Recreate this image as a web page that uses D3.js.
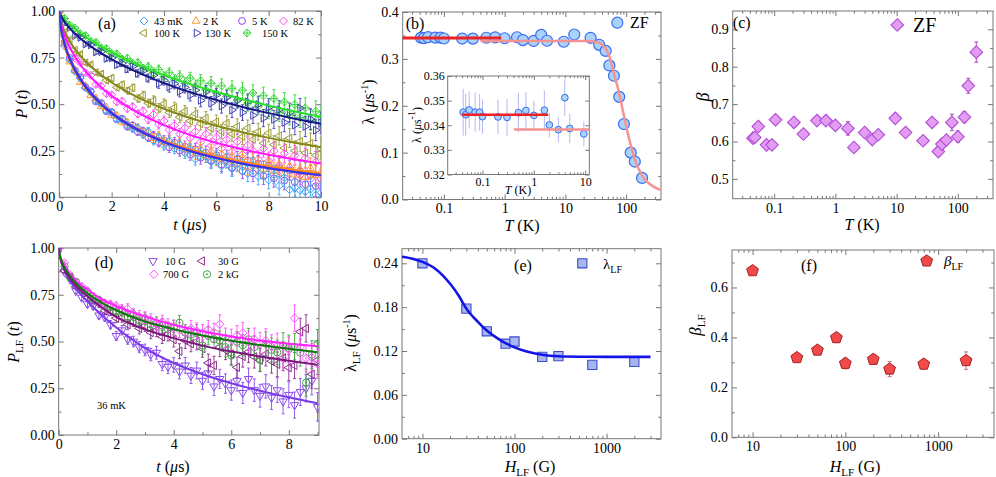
<!DOCTYPE html>
<html>
<head>
<meta charset="utf-8">
<script src="https://cdnjs.cloudflare.com/ajax/libs/d3/7.8.5/d3.min.js"></script>
<style>
body { margin: 0; background: #fff; }
text { font-family: "Liberation Serif", "Times New Roman", serif; }
</style>
</head>
<body>
<script>
const FONT = '"Liberation Serif", "Times New Roman", serif';

// ---- (a) ZF asymmetry vs time ----
const tA = [0, 0.2, 0.4, 0.6, 0.8, 1.0, 1.2, 1.4, 1.6, 1.8, 2.0, 2.2, 2.4, 2.6, 2.8, 3.0, 3.2, 3.4, 3.6, 3.8,
  4.0, 4.2, 4.4, 4.6, 4.8, 5.0, 5.2, 5.4, 5.6, 5.8, 6.0, 6.2, 6.4, 6.6, 6.8, 7.0, 7.2, 7.4, 7.6, 7.8,
  8.0, 8.2, 8.4, 8.6, 8.8, 9.0, 9.2, 9.4, 9.6, 9.8, 10.0];
const p43mK = [1.000, 0.812, 0.738, 0.676, 0.640, 0.588, 0.566, 0.520, 0.503, 0.466, 0.455, 0.421, 0.418, 0.388, 0.369, 0.372, 0.338, 0.352, 0.305, 0.318,
  0.279, 0.302, 0.262, 0.281, 0.238, 0.256, 0.205, 0.236, 0.221, 0.190, 0.214, 0.168, 0.197, 0.152, 0.183, 0.164, 0.128, 0.171, 0.112, 0.146,
  0.093, 0.121, 0.062, 0.105, 0.041, 0.052, 0.038, 0.030, 0.044, 0.012, 0.025];
const p2K = [1.000, 0.826, 0.728, 0.683, 0.618, 0.596, 0.547, 0.531, 0.488, 0.482, 0.442, 0.438, 0.405, 0.402, 0.372, 0.373, 0.344, 0.349, 0.318, 0.330,
  0.296, 0.305, 0.274, 0.290, 0.258, 0.268, 0.235, 0.262, 0.222, 0.248, 0.208, 0.232, 0.196, 0.221, 0.178, 0.214, 0.162, 0.198, 0.170, 0.152,
  0.186, 0.140, 0.176, 0.128, 0.166, 0.121, 0.150, 0.108, 0.156, 0.118, 0.135];
const p5K = [1.000, 0.830, 0.748, 0.681, 0.646, 0.592, 0.570, 0.514, 0.506, 0.462, 0.458, 0.418, 0.422, 0.380, 0.385, 0.352, 0.355, 0.322, 0.330, 0.296,
  0.305, 0.268, 0.292, 0.250, 0.272, 0.230, 0.258, 0.212, 0.240, 0.198, 0.226, 0.176, 0.215, 0.160, 0.205, 0.142, 0.196, 0.128, 0.180, 0.115,
  0.170, 0.102, 0.158, 0.090, 0.145, 0.082, 0.138, 0.070, 0.120, 0.060, 0.100];
const p82K = [1.000, 0.862, 0.812, 0.748, 0.722, 0.668, 0.655, 0.605, 0.598, 0.556, 0.551, 0.512, 0.515, 0.476, 0.486, 0.448, 0.462, 0.418, 0.445, 0.392,
  0.410, 0.362, 0.386, 0.340, 0.372, 0.318, 0.352, 0.296, 0.340, 0.278, 0.322, 0.262, 0.310, 0.245, 0.298, 0.230, 0.280, 0.250, 0.205, 0.262,
  0.195, 0.248, 0.175, 0.236, 0.160, 0.225, 0.120, 0.210, 0.098, 0.190, 0.060];
const p100K = [1.000, 0.885, 0.845, 0.790, 0.768, 0.722, 0.712, 0.670, 0.662, 0.628, 0.640, 0.590, 0.605, 0.572, 0.588, 0.530, 0.548, 0.505, 0.520, 0.478,
  0.502, 0.455, 0.482, 0.430, 0.462, 0.410, 0.448, 0.395, 0.425, 0.370, 0.405, 0.352, 0.398, 0.340, 0.380, 0.325, 0.372, 0.310, 0.352, 0.290,
  0.345, 0.282, 0.330, 0.265, 0.318, 0.250, 0.300, 0.238, 0.290, 0.225, 0.260];
const p130K = [1.000, 0.935, 0.912, 0.868, 0.858, 0.822, 0.818, 0.780, 0.782, 0.745, 0.748, 0.712, 0.720, 0.688, 0.702, 0.665, 0.678, 0.640, 0.655, 0.610,
  0.628, 0.592, 0.610, 0.568, 0.590, 0.548, 0.575, 0.520, 0.565, 0.505, 0.548, 0.490, 0.535, 0.468, 0.520, 0.455, 0.512, 0.440, 0.498, 0.425,
  0.482, 0.418, 0.470, 0.402, 0.455, 0.388, 0.478, 0.380, 0.420, 0.360, 0.400];
const p150K = [1.000, 0.960, 0.925, 0.908, 0.878, 0.868, 0.838, 0.832, 0.802, 0.798, 0.772, 0.770, 0.742, 0.745, 0.718, 0.722, 0.692, 0.700, 0.670, 0.685,
  0.648, 0.668, 0.630, 0.650, 0.612, 0.640, 0.598, 0.625, 0.578, 0.612, 0.560, 0.598, 0.542, 0.585, 0.522, 0.575, 0.505, 0.560, 0.488, 0.545,
  0.470, 0.530, 0.455, 0.512, 0.440, 0.498, 0.428, 0.480, 0.415, 0.462, 0.430];
const errA = [0.004, 0.006, 0.007, 0.008, 0.009, 0.010, 0.011, 0.012, 0.013, 0.014, 0.015, 0.016, 0.017, 0.018, 0.019, 0.020, 0.021, 0.022, 0.024, 0.025,
  0.026, 0.027, 0.028, 0.029, 0.030, 0.031, 0.032, 0.034, 0.035, 0.036, 0.037, 0.038, 0.039, 0.040, 0.041, 0.042, 0.043, 0.044, 0.045, 0.046,
  0.047, 0.048, 0.049, 0.050, 0.051, 0.052, 0.053, 0.054, 0.055, 0.056, 0.057];
const tFitA = [0, 0.05, 0.1, 0.2, 0.3, 0.5, 0.75, 1, 1.5, 2, 2.5, 3, 4, 5, 6, 7, 8, 9, 10];
const fit43mK = [1, 0.9194, 0.8796, 0.8223, 0.7782, 0.7101, 0.6451, 0.5930, 0.5122, 0.4505, 0.4010, 0.3602, 0.2961, 0.2479, 0.2104, 0.1805, 0.1560, 0.1359, 0.1190];
const fit2K = [1, 0.9116, 0.8704, 0.8121, 0.7683, 0.7010, 0.6375, 0.5871, 0.5092, 0.4500, 0.4027, 0.3636, 0.3022, 0.2558, 0.2195, 0.1903, 0.1663, 0.1464, 0.1296];
const fit5K = [1, 0.9227, 0.8838, 0.8274, 0.7839, 0.7161, 0.6512, 0.5990, 0.5177, 0.4554, 0.4054, 0.3640, 0.2991, 0.2502, 0.2121, 0.1816, 0.1568, 0.1364, 0.1193];
const fit82K = [1, 0.9442, 0.9145, 0.8699, 0.8348, 0.7784, 0.7228, 0.6768, 0.6029, 0.5443, 0.4958, 0.4545, 0.3875, 0.3350, 0.2926, 0.2576, 0.2283, 0.2033, 0.1819];
const fit100K = [1, 0.9521, 0.9273, 0.8904, 0.8614, 0.8148, 0.7684, 0.7300, 0.6672, 0.6164, 0.5737, 0.5368, 0.4754, 0.4258, 0.3844, 0.3493, 0.3190, 0.2925, 0.2692];
const fit130K = [1, 0.9775, 0.9637, 0.9417, 0.9233, 0.8922, 0.8594, 0.8308, 0.7818, 0.7400, 0.7033, 0.6704, 0.6132, 0.5646, 0.5222, 0.4850, 0.4518, 0.4219, 0.3950];
const fit150K = [1, 0.9843, 0.9738, 0.9564, 0.9414, 0.9152, 0.8868, 0.8616, 0.8171, 0.7783, 0.7436, 0.7120, 0.6561, 0.6076, 0.5648, 0.5266, 0.4922, 0.4610, 0.4326];

// ---- (b) ZF lambda vs T ----
const tempB = [0.042, 0.047, 0.055, 0.072, 0.088, 0.1, 0.2, 0.3, 0.5, 0.7, 1.0, 1.6, 2.0, 3.0, 4.0, 5.0, 9.4, 14, 26, 36,
  46, 53, 63, 77, 92, 119, 139, 183];
const lamB = [0.3453, 0.3443, 0.3462, 0.3453, 0.3453, 0.3435, 0.3434, 0.3432, 0.3451, 0.3460, 0.3440, 0.3461, 0.3401, 0.3382, 0.3512, 0.3387, 0.3365, 0.352, 0.345, 0.330,
  0.317, 0.286, 0.264, 0.219, 0.161, 0.100, 0.081, 0.046];
const errB = [0.0095, 0.0085, 0.0075, 0.008, 0.0075, 0.007, 0.007, 0.0075, 0.008, 0.0075, 0.006, 0.008, 0.005, 0.005, 0.0075, 0.006, 0.005, 0.006, 0.005, 0.005,
  0.005, 0.005, 0.004, 0.004, 0.004, 0.004, 0.003, 0.003];
const redMainT = [0.021, 0.88], redMainL = [0.3443, 0.3443];
const pinkT = [0.4, 20, 30, 40, 46, 52, 58, 65, 75, 85, 95, 110, 125, 140, 160, 185, 220, 270, 330, 370];
const pinkL = [0.338, 0.338, 0.337, 0.331, 0.322, 0.308, 0.288, 0.262, 0.232, 0.200, 0.170, 0.134, 0.106, 0.084, 0.066, 0.050, 0.038, 0.029, 0.023, 0.021];
const redInT = [0.04, 1.9], redInL = [0.3443, 0.3443];
const pinkInT = [0.41, 12], pinkInL = [0.3383, 0.3383];

// ---- (c) ZF beta vs T ----
const tempC = [0.045, 0.048, 0.055, 0.075, 0.092, 0.105, 0.21, 0.3, 0.5, 0.7, 1.0, 1.6, 2.0, 3.0, 4.0, 5.0, 9.5, 14, 27, 38,
  48, 55, 65, 80, 100, 128, 148, 200];
const betaC = [0.609, 0.611, 0.640, 0.591, 0.591, 0.658, 0.651, 0.620, 0.656, 0.656, 0.643, 0.635, 0.584, 0.624, 0.605, 0.618, 0.662, 0.624, 0.602, 0.651,
  0.573, 0.593, 0.604, 0.651, 0.613, 0.665, 0.749, 0.839];
const errC = [0.005, 0.005, 0.006, 0.006, 0.006, 0.010, 0.008, 0.008, 0.008, 0.010, 0.010, 0.018, 0.010, 0.010, 0.010, 0.010, 0.010, 0.010, 0.010, 0.010,
  0.010, 0.012, 0.010, 0.022, 0.015, 0.015, 0.020, 0.027];

// ---- (d) LF asymmetry vs time ----
const tD = [0, 0.2, 0.4, 0.6, 0.8, 1.0, 1.2, 1.4, 1.6, 1.8, 2.0, 2.2, 2.4, 2.6, 2.8, 3.0, 3.2, 3.4, 3.6, 3.8,
  4.0, 4.2, 4.4, 4.6, 4.8, 5.0, 5.2, 5.4, 5.6, 5.8, 6.0, 6.2, 6.4, 6.6, 6.8, 7.0, 7.2, 7.4, 7.6, 7.8,
  8.0, 8.2, 8.4, 8.6, 8.8, 9.0];
const p10G = [1.000, 0.872, 0.832, 0.770, 0.735, 0.700, 0.690, 0.640, 0.630, 0.590, 0.530, 0.560, 0.512, 0.500, 0.470, 0.455, 0.430, 0.440, 0.380, 0.365,
  0.375, 0.340, 0.372, 0.318, 0.345, 0.290, 0.330, 0.260, 0.300, 0.275, 0.240, 0.290, 0.225, 0.300, 0.240, 0.210, 0.260, 0.200, 0.240, 0.180,
  0.215, 0.160, 0.230, 0.250, 0.290, 0.150];
const p30G = [1.000, 0.878, 0.845, 0.792, 0.775, 0.735, 0.728, 0.700, 0.665, 0.660, 0.625, 0.628, 0.590, 0.608, 0.570, 0.585, 0.548, 0.560, 0.525, 0.540,
  0.510, 0.448, 0.505, 0.488, 0.500, 0.462, 0.385, 0.372, 0.470, 0.455, 0.432, 0.362, 0.420, 0.445, 0.418, 0.400, 0.432, 0.395, 0.378, 0.412,
  0.360, 0.372, 0.552, 0.570, 0.325, 0.400];
const p700G = [1.000, 0.920, 0.852, 0.818, 0.795, 0.770, 0.742, 0.712, 0.705, 0.698, 0.688, 0.672, 0.675, 0.648, 0.635, 0.628, 0.615, 0.592, 0.605, 0.585,
  0.575, 0.562, 0.548, 0.570, 0.555, 0.545, 0.565, 0.548, 0.592, 0.520, 0.512, 0.530, 0.545, 0.498, 0.512, 0.488, 0.505, 0.472, 0.478, 0.410,
  0.455, 0.625, 0.470, 0.410, 0.415, 0.380];
const p2kG = [1.000, 0.902, 0.842, 0.820, 0.775, 0.765, 0.728, 0.722, 0.690, 0.688, 0.660, 0.662, 0.632, 0.640, 0.612, 0.622, 0.592, 0.598, 0.585, 0.565,
  0.575, 0.600, 0.548, 0.535, 0.545, 0.478, 0.530, 0.512, 0.505, 0.470, 0.425, 0.498, 0.480, 0.512, 0.470, 0.402, 0.488, 0.455, 0.442, 0.480,
  0.465, 0.472, 0.440, 0.280, 0.430, 0.488];
const errD = [0.008, 0.010, 0.012, 0.013, 0.015, 0.016, 0.018, 0.019, 0.021, 0.022, 0.024, 0.025, 0.027, 0.028, 0.030, 0.031, 0.033, 0.034, 0.036, 0.037,
  0.039, 0.040, 0.042, 0.043, 0.045, 0.046, 0.048, 0.049, 0.051, 0.052, 0.054, 0.055, 0.057, 0.058, 0.060, 0.061, 0.063, 0.064, 0.066, 0.067,
  0.069, 0.070, 0.072, 0.073, 0.075, 0.076];
const tFitD = [0, 0.05, 0.1, 0.2, 0.3, 0.5, 0.75, 1, 1.5, 2, 3, 4, 5, 6, 7, 8, 9];
const fit10G = [1, 0.95, 0.92, 0.88, 0.85, 0.80, 0.755, 0.715, 0.64, 0.575, 0.465, 0.385, 0.325, 0.277, 0.237, 0.202, 0.170];
const fit30G = [1, 0.95, 0.925, 0.885, 0.86, 0.815, 0.775, 0.742, 0.683, 0.632, 0.565, 0.518, 0.478, 0.446, 0.42, 0.397, 0.375];
const fit2kG = [1, 0.955, 0.93, 0.895, 0.87, 0.83, 0.79, 0.758, 0.706, 0.667, 0.607, 0.566, 0.532, 0.504, 0.481, 0.461, 0.443];
const fit700G = [1, 0.96, 0.935, 0.905, 0.88, 0.84, 0.805, 0.777, 0.727, 0.69, 0.633, 0.59, 0.555, 0.527, 0.505, 0.488, 0.475];

// ---- (e) LF lambda vs field ----
const fieldE = [10, 30, 50, 80, 100, 200, 300, 700, 2000];
const lamE = [0.240, 0.178, 0.147, 0.130, 0.133, 0.112, 0.113, 0.101, 0.105];
const errE = [0.003, 0.003, 0.003, 0.003, 0.004, 0.003, 0.003, 0.004, 0.006];
const fitFieldE = [6, 8, 10, 14, 20, 25, 30, 40, 50, 70, 100, 150, 200, 300, 500, 1000, 3000];
const fitLamE = [0.249, 0.246, 0.242, 0.232, 0.212, 0.195, 0.178, 0.160, 0.148, 0.135, 0.125, 0.118, 0.1148, 0.1128, 0.1122, 0.1120, 0.1120];

// ---- (f) LF beta vs field ----
const fieldF = [10, 30, 50, 80, 100, 200, 300, 700, 2000];
const betaF = [0.667, 0.319, 0.349, 0.399, 0.296, 0.312, 0.273, 0.293, 0.307];
const errF = [0.010, 0.012, 0.018, 0.020, 0.022, 0.020, 0.030, 0.020, 0.035];

const svg = d3.select("body").append("svg")
    .attr("width", 996)
    .attr("height", 477)
    .style("background", "#fff");
const defs = svg.append("defs");

function shape(kind, r) {
    const s = 0.866 * r, h = r / 2;
    const circ = (q) => `M${q},0A${q},${q} 0 1,1 ${-q},0A${q},${q} 0 1,1 ${q},0Z`;
    switch (kind) {
        case "diamond": return `M0,${-r}L${r},0L0,${r}L${-r},0Z`;
        case "xdiamond": return `M0,${-r}L${r},0L0,${r}L${-r},0ZM${-r},0H${r}M0,${-r}V${r}`;
        case "up": return `M0,${-r}L${s},${h}L${-s},${h}Z`;
        case "down": return `M0,${r}L${s},${-h}L${-s},${-h}Z`;
        case "left": return `M${-r},0L${h},${-s}L${h},${s}Z`;
        case "right": return `M${r},0L${-h},${-s}L${-h},${s}Z`;
        case "circle": return circ(r);
        case "dcircle": return circ(r) + circ(0.7);
        case "square": return `M${-r},${-r}H${r}V${r}H${-r}Z`;
        case "pentagon":
            return "M" + [0, 1, 2, 3, 4].map(k => {
                const a = -Math.PI / 2 + k * 2 * Math.PI / 5;
                return `${r * Math.cos(a)},${r * Math.sin(a)}`;
            }).join("L") + "Z";
    }
}

function logMinor(lo, hi) {
    const out = [];
    for (let d = 0.01; d <= 1000; d *= 10)
        for (let k = 2; k <= 9; k++) {
            const v = +(k * d).toPrecision(3);
            if (v > lo && v < hi) out.push(v);
        }
    return out;
}

function axes(x, y, o) {
    const [xl, xr] = x.range(), [yb, yt] = y.range();
    const fs = o.fs || 14, tk = o.tk || 5;
    const put = (axis, tx, ty, bare) => svg.append("g")
        .attr("transform", `translate(${tx},${ty})`)
        .call(axis)
        .attr("font-size", fs)
        .attr("font-family", FONT)
        .call(g => {
            g.select(".domain").remove();
            g.selectAll("line").attr("stroke", "#777");
            if (bare) g.selectAll("text").remove();
            else g.selectAll("text").attr("fill", "#000");
        });
    put(d3.axisBottom(x).tickValues(o.xt).tickFormat(o.xf).tickSize(-tk).tickSizeOuter(0).tickPadding(o.px || 4), 0, yb);
    put(d3.axisTop(x).tickValues(o.xt).tickSize(-tk).tickSizeOuter(0), 0, yt, true);
    put(d3.axisLeft(y).tickValues(o.yt).tickFormat(o.yf).tickSize(-tk).tickSizeOuter(0).tickPadding(o.py || 4), xl, 0);
    put(d3.axisRight(y).tickValues(o.yt).tickSize(-tk).tickSizeOuter(0), xr, 0, true);
    if (o.xm) {
        put(d3.axisBottom(x).tickValues(o.xm).tickSize(-tk * 0.55).tickSizeOuter(0), 0, yb, true);
        put(d3.axisTop(x).tickValues(o.xm).tickSize(-tk * 0.55).tickSizeOuter(0), 0, yt, true);
    }
    if (o.ym) {
        put(d3.axisLeft(y).tickValues(o.ym).tickSize(-tk * 0.55).tickSizeOuter(0), xl, 0, true);
        put(d3.axisRight(y).tickValues(o.ym).tickSize(-tk * 0.55).tickSizeOuter(0), xr, 0, true);
    }
    svg.append("rect")
        .attr("x", xl).attr("y", yt)
        .attr("width", xr - xl).attr("height", yb - yt)
        .attr("fill", "none")
        .attr("stroke", "#777");
    if (o.clip) {
        defs.append("clipPath").attr("id", o.clip)
            .append("rect")
            .attr("x", xl).attr("y", yt)
            .attr("width", xr - xl).attr("height", yb - yt);
    }
}

function scatter(x, y, xs, ys, es, st, clip) {
    const pts = xs.map((v, i) => ({
        x: x(v), y: y(ys[i]),
        lo: es ? y(ys[i] - es[i]) : 0,
        hi: es ? y(ys[i] + es[i]) : 0
    }));
    const g = svg.append("g");
    if (clip) g.attr("clip-path", `url(#${clip})`);
    const cap = st.cap === undefined ? 1.5 : st.cap;
    if (es) {
        g.selectAll("path.eb").data(pts).join("path")
            .attr("class", "eb")
            .attr("d", p => `M${p.x},${p.lo}V${p.hi}M${p.x - cap},${p.lo}h${2 * cap}M${p.x - cap},${p.hi}h${2 * cap}`)
            .attr("fill", "none")
            .attr("stroke", st.ecol || st.stroke)
            .attr("stroke-width", st.ew || 0.9);
    }
    g.selectAll("path.mk").data(pts).join("path")
        .attr("class", "mk")
        .attr("transform", p => `translate(${p.x},${p.y})`)
        .attr("d", shape(st.kind, st.r))
        .attr("fill", st.fill || "none")
        .attr("stroke", st.stroke)
        .attr("stroke-width", st.sw || 1);
}

function fitLine(x, y, xs, ys, color, w, clip) {
    const line = d3.line().x(d => x(d[0])).y(d => y(d[1])).curve(d3.curveMonotoneX);
    const p = svg.append("path")
        .datum(xs.map((v, i) => [v, ys[i]]))
        .attr("d", line)
        .attr("fill", "none")
        .attr("stroke", color)
        .attr("stroke-width", w);
    if (clip) p.attr("clip-path", `url(#${clip})`);
}

function label(x, y, html, size, anchor, rot) {
    const t = svg.append("text")
        .attr("x", x).attr("y", y)
        .attr("dy", "0.35em")
        .attr("font-size", size)
        .attr("text-anchor", anchor || "start")
        .attr("fill", "#000");
    if (rot) t.attr("transform", `rotate(-90,${x},${y})`);
    t.html(html);
}

function legendItem(cx, cy, st, text, tx, size) {
    svg.append("path")
        .attr("transform", `translate(${cx},${cy})`)
        .attr("d", shape(st.kind, st.r))
        .attr("fill", st.fill || "none")
        .attr("stroke", st.stroke)
        .attr("stroke-width", st.sw || 1);
    label(tx, cy, text, size);
}

const it = (s) => `<tspan font-style="italic">${s}</tspan>`;
// subscript, then the rest of the text back on the baseline
const sub = (s, fs, rest) => `<tspan font-size="${fs}" dy="4">${s}</tspan>` + (rest ? `<tspan dy="-4">${rest}</tspan>` : "");
const invUs = `(${it("μ")}s<tspan font-size="10" dy="-6">-1</tspan><tspan dy="6">)</tspan>`;

// ================= panel (a) =================
const xA = d3.scaleLinear().domain([0, 10]).range([59.3, 321]);
const yA = d3.scaleLinear().domain([0, 1]).range([197.3, 11]);
axes(xA, yA, {
    xt: [0, 2, 4, 6, 8, 10], xf: d3.format("d"), xm: [1, 3, 5, 7, 9],
    yt: [0, 0.25, 0.5, 0.75, 1], yf: d3.format(".2f"), ym: [0.125, 0.375, 0.625, 0.875],
    clip: "clipA"
});
const stA = {
    k43: { kind: "diamond", r: 4, stroke: "#35a7f5" },
    k2: { kind: "up", r: 4.5, stroke: "#ff9a3a" },
    k5: { kind: "circle", r: 3.4, stroke: "#9c44f2" },
    k82: { kind: "diamond", r: 4, stroke: "#ff4cf5" },
    k100: { kind: "left", r: 4.5, stroke: "#999a30" },
    k130: { kind: "right", r: 4.5, stroke: "#4040b0" },
    k150: { kind: "xdiamond", r: 4, stroke: "#3ad83a" }
};
scatter(xA, yA, tA, p150K, errA, stA.k150, "clipA");
scatter(xA, yA, tA, p130K, errA, stA.k130, "clipA");
scatter(xA, yA, tA, p100K, errA, stA.k100, "clipA");
scatter(xA, yA, tA, p82K, errA, stA.k82, "clipA");
scatter(xA, yA, tA, p5K, errA, stA.k5, "clipA");
scatter(xA, yA, tA, p2K, errA, stA.k2, "clipA");
scatter(xA, yA, tA, p43mK, errA, stA.k43, "clipA");
fitLine(xA, yA, tFitA, fit150K, "#28e028", 2, "clipA");
fitLine(xA, yA, tFitA, fit130K, "#161682", 2, "clipA");
fitLine(xA, yA, tFitA, fit100K, "#86861a", 2, "clipA");
fitLine(xA, yA, tFitA, fit82K, "#ff18ff", 2, "clipA");
fitLine(xA, yA, tFitA, fit2K, "#ff8a10", 2, "clipA");
fitLine(xA, yA, tFitA, fit5K, "#8a20ee", 2, "clipA");
fitLine(xA, yA, tFitA, fit43mK, "#3438e4", 2, "clipA");
label(107, 23, "(a)", 16, "middle");
legendItem(144, 21, stA.k43, "43 mK", 154, 10.5);
legendItem(196, 21, stA.k2, "2 K", 203, 10.5);
legendItem(242, 21, stA.k5, "5 K", 252, 10.5);
legendItem(283.5, 21, stA.k82, "82 K", 293, 10.5);
legendItem(144, 33, stA.k100, "100 K", 154, 10.5);
legendItem(196.5, 33, stA.k130, "130 K", 205, 10.5);
legendItem(247, 33, stA.k150, "150 K", 262, 10.5);
label(21, 104, `${it("P")} (${it("t")})`, 16, "middle", true);
label(190, 224, `${it("t")} (${it("μ")}s)`, 16, "middle");

// ================= panel (b) =================
const xB = d3.scaleLog().domain([0.021, 375]).range([402.7, 661]);
const yB = d3.scaleLinear().domain([0, 0.4]).range([199.5, 12]);
axes(xB, yB, {
    xt: [0.1, 1, 10, 100], xf: d => String(d), xm: logMinor(0.021, 375),
    yt: [0, 0.1, 0.2, 0.3, 0.4], yf: d3.format(".1f"), ym: [0.05, 0.15, 0.25, 0.35]
});
const stB = { kind: "circle", r: 5.5, fill: "#a9d3fb", stroke: "#3a6cf0", sw: 1.2 };
scatter(xB, yB, tempB, lamB, null, stB);
fitLine(xB, yB, redMainT, redMainL, "#ee2222", 3);
fitLine(xB, yB, pinkT, pinkL, "#f59292", 2.5);
label(415, 23, "(b)", 16, "middle");
legendItem(617.3, 22.7, stB, "ZF", 630, 16);
label(368, 102, `λ ${invUs}`, 16, "middle", true);
label(522, 225, `${it("T")} (K)`, 16, "middle");

// inset
const xI = d3.scaleLog().domain([0.021, 12]).range([447.7, 589.3]);
const yI = d3.scaleLinear().domain([0.32, 0.36]).range([174.5, 76]);
svg.append("rect").attr("x", 447.7).attr("y", 76).attr("width", 141.6).attr("height", 98.5).attr("fill", "#fff");
axes(xI, yI, {
    xt: [0.1, 1, 10], xf: d => String(d), xm: logMinor(0.021, 12),
    yt: [0.32, 0.33, 0.34, 0.35, 0.36], yf: d3.format(".2f"),
    fs: 12, tk: 4, px: 3, py: 3
});
const inIdx = tempB.map((v, i) => i).filter(i => tempB[i] <= 12);
scatter(xI, yI, inIdx.map(i => tempB[i]), inIdx.map(i => lamB[i]), inIdx.map(i => errB[i]),
    { kind: "circle", r: 3.4, fill: "#a9d3fb", stroke: "#3a6cf0", ecol: "#b4b8f4", ew: 1, cap: 0 });
fitLine(xI, yI, redInT, redInL, "#ee2222", 2.5);
fitLine(xI, yI, pinkInT, pinkInL, "#f59292", 2.5);
label(417, 125, `λ ${invUs}`, 12, "middle", true);
label(518, 190, `${it("T")} (K)`, 12, "middle");

// ================= panel (c) =================
const xC = d3.scaleLog().domain([0.021, 375]).range([732.7, 993]);
const yC = d3.scaleLinear().domain([0.447, 0.949]).range([198.7, 11]);
axes(xC, yC, {
    xt: [0.1, 1, 10, 100], xf: d => String(d), xm: logMinor(0.021, 375),
    yt: [0.5, 0.6, 0.7, 0.8, 0.9], yf: d3.format(".1f"), ym: [0.55, 0.65, 0.75, 0.85]
});
const stC = { kind: "diamond", r: 6.3, fill: "#e29cf2", stroke: "#b24cd6", sw: 1.1, ecol: "#9a3ab8", cap: 2 };
scatter(xC, yC, tempC, betaC, errC, stC);
label(741.7, 22, "(c)", 16, "middle");
legendItem(897.3, 25, stC, "ZF", 913, 20);
label(703, 97, it("β"), 18, "middle", true);
label(862, 224, `${it("T")} (K)`, 16, "middle");

// ================= panel (d) =================
const xD = d3.scaleLinear().domain([0, 9.05]).range([58.7, 319]);
const yD = d3.scaleLinear().domain([0, 1]).range([435, 248]);
axes(xD, yD, {
    xt: [0, 2, 4, 6, 8], xf: d3.format("d"), xm: [1, 3, 5, 7, 9],
    yt: [0, 0.25, 0.5, 0.75, 1], yf: d3.format(".2f"), ym: [0.125, 0.375, 0.625, 0.875],
    clip: "clipD"
});
const stD = {
    g10: { kind: "down", r: 4.8, stroke: "#8a48ee" },
    g30: { kind: "left", r: 4.8, stroke: "#8c2c8c" },
    g700: { kind: "diamond", r: 4.2, stroke: "#ff50ff" },
    g2k: { kind: "dcircle", r: 3.6, stroke: "#3aa83a" }
};
scatter(xD, yD, tD, p10G, errD, stD.g10, "clipD");
scatter(xD, yD, tD, p30G, errD, stD.g30, "clipD");
scatter(xD, yD, tD, p2kG, errD, stD.g2k, "clipD");
scatter(xD, yD, tD, p700G, errD, stD.g700, "clipD");
fitLine(xD, yD, tFitD, fit10G, "#7a3ae8", 2, "clipD");
fitLine(xD, yD, tFitD, fit30G, "#7a167a", 2, "clipD");
fitLine(xD, yD, tFitD, fit700G, "#ff22ff", 2, "clipD");
fitLine(xD, yD, tFitD, fit2kG, "#0c780c", 2, "clipD");
label(104, 262, "(d)", 16, "middle");
legendItem(153, 261, stD.g10, "10 G", 165, 10.5);
legendItem(202, 261, stD.g30, "30 G", 218, 10.5);
legendItem(154, 274.3, stD.g700, "700 G", 163, 10.5);
legendItem(207, 274.3, stD.g2k, "2 kG", 218, 10.5);
label(97, 405, "36 mK", 10.5);
label(13, 342, `${it("P")}${sub("LF", 11, " (")}${it("t")})`, 16, "middle", true);
label(173, 466, `${it("t")} (${it("μ")}s)`, 16, "middle");

// ================= panel (e) =================
const xE = d3.scaleLog().domain([6, 3900]).range([402, 661]);
const yE = d3.scaleLinear().domain([0, 0.26]).range([438.7, 248.7]);
axes(xE, yE, {
    xt: [10, 100, 1000], xf: d => String(d), xm: logMinor(6, 3900),
    yt: [0, 0.06, 0.12, 0.18, 0.24], yf: d3.format(".2f"), ym: [0.03, 0.09, 0.15, 0.21]
});
const stE = { kind: "square", r: 4.6, fill: "#a8b6ee", stroke: "#3c4ccc", sw: 1.1, cap: 2 };
scatter(xE, yE, fieldE, lamE, errE, stE);
fitLine(xE, yE, fitFieldE, fitLamE, "#1414e8", 2.6);
label(523, 265, "(e)", 16, "middle");
legendItem(582.3, 263.3, stE, `λ${sub("LF", 10)}`, 603, 15);
label(350, 343, `λ${sub("LF", 11, " (")}${it("μ")}s<tspan font-size="10" dy="-6">-1</tspan><tspan dy="6">)</tspan>`, 16, "middle", true);
label(530, 466, `${it("H")}${sub("LF", 11, " (G)")}`, 16, "middle");

// ================= panel (f) =================
const xF = d3.scaleLog().domain([6, 4000]).range([732, 994]);
const yF = d3.scaleLinear().domain([0, 0.75]).range([437.3, 250]);
axes(xF, yF, {
    xt: [10, 100, 1000], xf: d => String(d), xm: logMinor(6, 4000),
    yt: [0, 0.2, 0.4, 0.6], yf: d3.format(".1f"), ym: [0.1, 0.3, 0.5, 0.7]
});
const stF = { kind: "pentagon", r: 6.2, fill: "#f04a4a", stroke: "#a82222", sw: 1, ecol: "#c86060", cap: 2 };
scatter(xF, yF, fieldF, betaF, errF, stF);
label(809, 265, "(f)", 16, "middle");
legendItem(926.7, 261, stF, `${it("β")}${sub("LF", 10)}`, 944, 15);
label(695, 325, `${it("β")}${sub("LF", 11)}`, 17, "middle", true);
label(855, 466, `${it("H")}${sub("LF", 11, " (G)")}`, 16, "middle");
</script>
</body>
</html>
